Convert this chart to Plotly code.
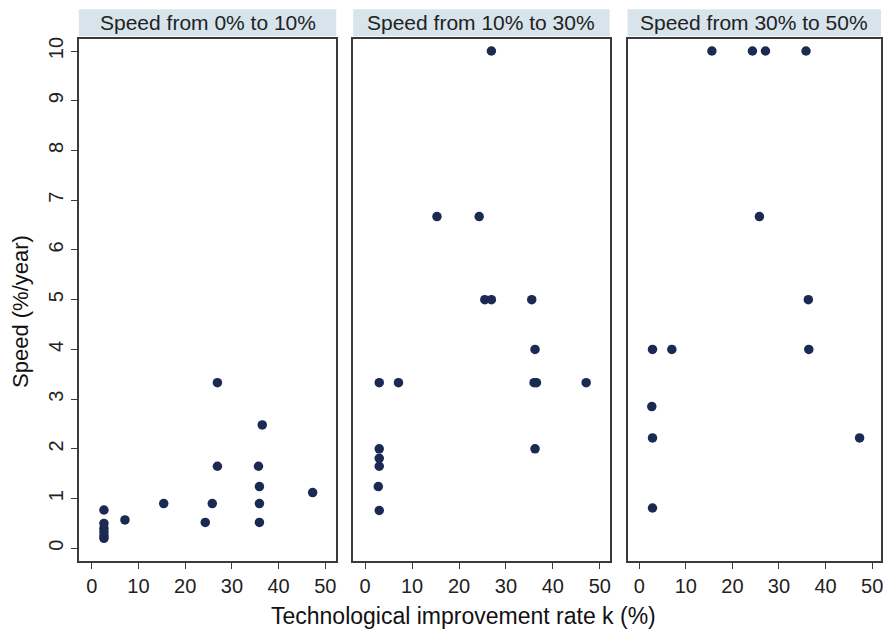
import plotly.graph_objects as go

# ---- data ----
panel_titles = ["Speed from 0% to 10%", "Speed from 10% to 30%", "Speed from 30% to 50%"]

k_p1 = [2.6, 2.6, 2.6, 2.6, 2.6, 2.6, 7.1, 15.4, 24.3, 25.8, 26.9, 26.9, 35.7, 36.5, 35.9, 35.9, 35.9, 47.3]
speed_p1 = [0.2, 0.25, 0.33, 0.4, 0.5, 0.77, 0.57, 0.9, 0.52, 0.9, 3.33, 1.65, 1.65, 2.48, 1.24, 0.9, 0.52, 1.12]

k_p2 = [26.9, 15.3, 24.3, 25.5, 26.9, 35.5, 36.2, 3.0, 7.1, 36.0, 36.5, 47.1, 3.0, 36.2, 3.0, 3.0, 2.8, 3.0]
speed_p2 = [10.0, 6.67, 6.67, 5.0, 5.0, 5.0, 4.0, 3.33, 3.33, 3.33, 3.33, 3.33, 2.0, 2.0, 1.81, 1.65, 1.24, 0.76]

k_p3 = [15.6, 24.3, 27.1, 35.8, 25.8, 36.3, 2.85, 7.0, 36.4, 2.7, 2.85, 47.3, 2.85]
speed_p3 = [10.0, 10.0, 10.0, 10.0, 6.67, 5.0, 4.0, 4.0, 4.0, 2.85, 2.22, 2.22, 0.81]

x_ticks = [0, 10, 20, 30, 40, 50]
y_ticks = [0, 1, 2, 3, 4, 5, 6, 7, 8, 9, 10]

x_title = "Technological improvement rate k (%)"
y_title = "Speed (%/year)"

# ---- layout geometry ----
W, H = 888, 630
panel_px = [(79, 337), (354, 611), (629, 883)]
x_ranges = [[-2.78, 52.35], [-2.55, 52.1], [-2.5, 51.9]]
y_top_px, y_bot_px = 36.7, 561
strip_top_px, strip_bot_px = 7.3, 34.3

FONT = "Liberation Sans, Arial, sans-serif"
MARKER = "#1b2a52"
STRIP = "#d8e4eb"
LINE = "#3a3a3a"

fig = go.Figure()
series = [(k_p1, speed_p1), (k_p2, speed_p2), (k_p3, speed_p3)]
for i, (kx, sy) in enumerate(series):
    xa = "x" if i == 0 else f"x{i+1}"
    ya = "y" if i == 0 else f"y{i+1}"
    fig.add_trace(go.Scatter(x=kx, y=sy, mode="markers", xaxis=xa, yaxis=ya,
                             marker=dict(color=MARKER, size=9.5, line=dict(width=0)),
                             showlegend=False, hoverinfo="x+y"))

ydom = [1 - y_bot_px / H, 1 - y_top_px / H]
layout = dict(width=W, height=H, margin=dict(l=0, r=0, t=0, b=0),
              paper_bgcolor="white", plot_bgcolor="white",
              font=dict(family=FONT, color="#222222"), showlegend=False)

shapes = []
annotations = []
for i, (x0, x1) in enumerate(panel_px):
    suffix = "" if i == 0 else str(i + 1)
    layout["xaxis" + suffix] = dict(
        domain=[x0 / W, x1 / W], range=x_ranges[i], tickvals=x_ticks,
        ticks="outside", ticklen=6, tickwidth=1.2, tickcolor=LINE,
        showline=True, linecolor=LINE, linewidth=1.5, mirror=True,
        showgrid=False, zeroline=False, tickfont=dict(size=20, color="#222222"),
        anchor="y" + suffix, fixedrange=True)
    layout["yaxis" + suffix] = dict(
        domain=ydom, range=[-0.26, 10.25], tickvals=y_ticks,
        ticks="outside" if i == 0 else "", ticklen=6, tickwidth=1.2, tickcolor=LINE,
        showticklabels=(i == 0), tickangle=-90,
        showline=True, linecolor=LINE, linewidth=1.5, mirror=True,
        showgrid=False, zeroline=False, tickfont=dict(size=20, color="#222222"),
        anchor="x" + suffix, fixedrange=True)
    # strip header
    shapes.append(dict(type="rect", xref="paper", yref="paper",
                       x0=x0 / W, x1=x1 / W,
                       y0=1 - strip_bot_px / H, y1=1 - strip_top_px / H,
                       fillcolor=STRIP, line=dict(width=0), layer="below"))
    annotations.append(dict(text=panel_titles[i], xref="paper", yref="paper",
                            x=(x0 + x1) / 2 / W, y=1 - (strip_top_px + strip_bot_px) / 2 / H,
                            xanchor="center", yanchor="middle", showarrow=False,
                            font=dict(size=21, color="#222222", family=FONT)))

annotations.append(dict(text=x_title, xref="paper", yref="paper",
                        x=465 / W, y=1 - 616 / H, xanchor="center", yanchor="middle",
                        showarrow=False, font=dict(size=23, color="#111111", family=FONT)))
annotations.append(dict(text=y_title, xref="paper", yref="paper",
                        x=20 / W, y=1 - 310 / H, xanchor="center", yanchor="middle",
                        textangle=-90, showarrow=False,
                        font=dict(size=22, color="#111111", family=FONT)))

layout["shapes"] = shapes
layout["annotations"] = annotations
fig.update_layout(**layout)
fig.write_html("out.html", config={"displayModeBar": False},
               post_script="document.body.style.margin='0';document.body.style.overflow='hidden';")
